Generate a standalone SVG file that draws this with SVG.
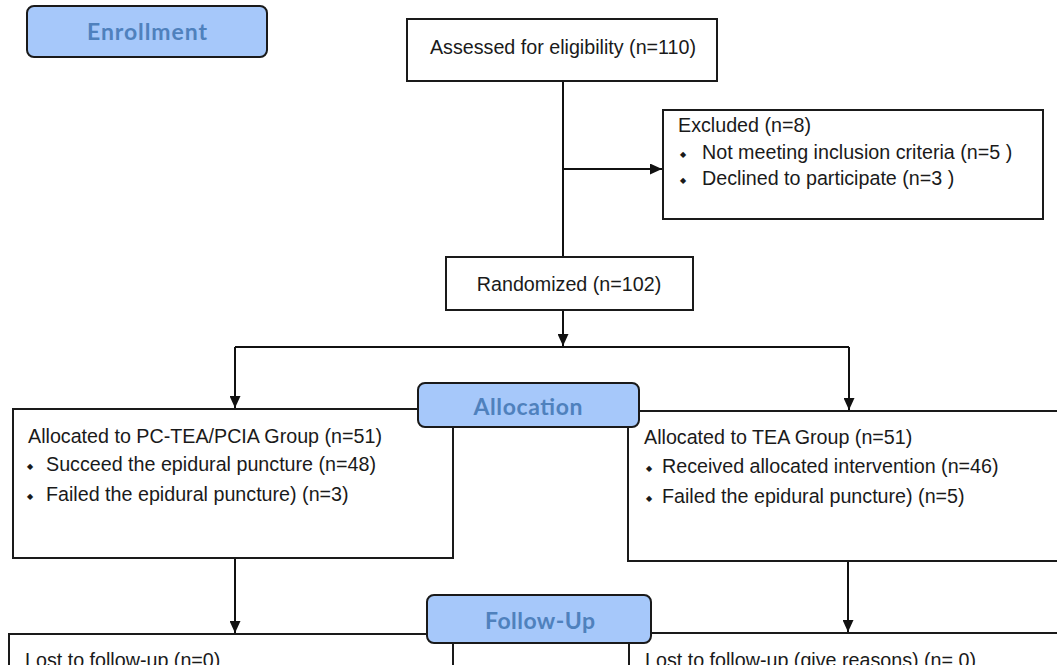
<svg xmlns="http://www.w3.org/2000/svg" width="1057" height="665" viewBox="0 0 1057 665">
<style>
.box{fill:#ffffff;stroke:#1a1a1a;stroke-width:2}
.stage{fill:#a6c8fa;stroke:#1a1a1a;stroke-width:2}
.stxt{font-family:Lato,"Open Sans","Liberation Sans",sans-serif;font-weight:bold;font-size:23px;fill:#4f81bd;text-anchor:middle}
.t{font-family:"Liberation Sans",Arial,sans-serif;font-size:19.7px;fill:#1a1a1a}
.b{font-family:"DejaVu Sans",sans-serif;font-size:8px;fill:#1a1a1a}
.ln{fill:none;stroke:#111;stroke-width:2}
</style>
<defs>
<marker id="ah" markerUnits="userSpaceOnUse" markerWidth="12" markerHeight="11" refX="12" refY="5.5" orient="auto">
<path d="M0,0 L12,5.5 L0,11 z" fill="#111"/>
</marker>
</defs>
<rect width="1057" height="665" fill="#ffffff"/>

<g id="connectors">
<line class="ln" x1="563" y1="81" x2="563" y2="257"/>
<line class="ln" x1="563" y1="169" x2="662" y2="169" marker-end="url(#ah)"/>
<line class="ln" x1="563" y1="310" x2="563" y2="346" marker-end="url(#ah)"/>
<line class="ln" x1="235" y1="347" x2="849" y2="347"/>
<line class="ln" x1="235" y1="347" x2="235" y2="408" marker-end="url(#ah)"/>
<line class="ln" x1="849" y1="347" x2="849" y2="410" marker-end="url(#ah)"/>
<line class="ln" x1="235" y1="558" x2="235" y2="633" marker-end="url(#ah)"/>
<line class="ln" x1="848" y1="561" x2="848" y2="632" marker-end="url(#ah)"/>
</g>

<g id="enrollment">
<rect class="stage" x="27" y="6" width="240" height="51" rx="7"/>
<text class="stxt" x="147" y="40" textLength="120">Enrollment</text>
</g>

<g id="assessed">
<rect class="box" x="407" y="19" width="310" height="62"/>
<text class="t" x="563" y="54" text-anchor="middle">Assessed for eligibility (n=110)</text>
</g>

<g id="excluded">
<rect class="box" x="663" y="110" width="380" height="109"/>
<text class="t" x="678" y="132">Excluded (n=8)</text>
<text class="b" x="680" y="157">◆</text>
<text class="t" x="702" y="159">Not meeting inclusion criteria (n=5 )</text>
<text class="b" x="680" y="183">◆</text>
<text class="t" x="702" y="185">Declined to participate (n=3 )</text>
</g>

<g id="randomized">
<rect class="box" x="446" y="257" width="247" height="53"/>
<text class="t" x="569" y="291" text-anchor="middle">Randomized (n=102)</text>
</g>

<g id="alloc-left">
<rect class="box" x="13" y="409" width="440" height="149"/>
<text class="t" x="28" y="443">Allocated to PC-TEA/PCIA Group (n=51)</text>
<text class="b" x="27" y="469">◆</text>
<text class="t" x="46" y="471">Succeed the epidural puncture (n=48)</text>
<text class="b" x="27" y="499">◆</text>
<text class="t" x="46" y="501">Failed the epidural puncture) (n=3)</text>
</g>

<g id="alloc-right">
<rect class="box" x="628" y="411" width="445" height="150"/>
<text class="t" x="644" y="444">Allocated to TEA Group (n=51)</text>
<text class="b" x="646" y="471">◆</text>
<text class="t" x="662" y="473">Received allocated intervention (n=46)</text>
<text class="b" x="646" y="501">◆</text>
<text class="t" x="662" y="503">Failed the epidural puncture) (n=5)</text>
</g>

<g id="allocation">
<rect class="stage" x="418" y="383" width="221" height="44" rx="7"/>
<text class="stxt" x="528" y="415" textLength="109">Allocation</text>
</g>

<g id="followup-left">
<rect class="box" x="9" y="634" width="444" height="60"/>
<text class="t" x="25" y="667">Lost to follow-up (n=0)</text>
</g>

<g id="followup-right">
<rect class="box" x="629" y="633" width="445" height="60"/>
<text class="t" x="645" y="667">Lost to follow-up (give reasons) (n= 0)</text>
</g>

<g id="followup">
<rect class="stage" x="427" y="595" width="224" height="48" rx="7"/>
<text class="stxt" x="540" y="629" textLength="110">Follow-Up</text>
</g>
</svg>
